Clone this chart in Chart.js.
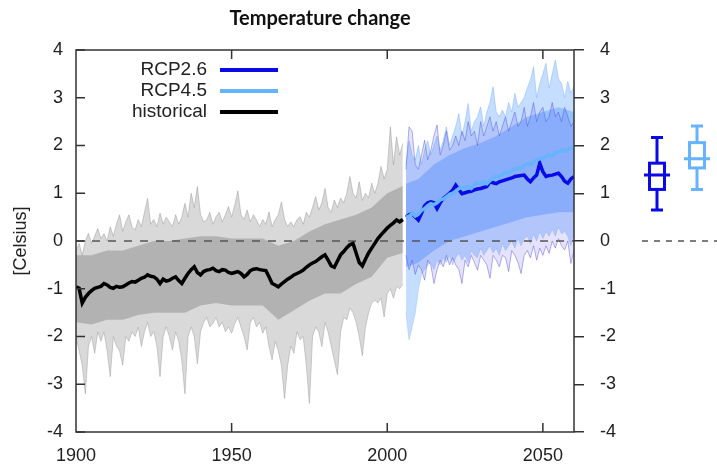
<!DOCTYPE html>
<html>
<head>
<meta charset="utf-8">
<script src="https://cdn.jsdelivr.net/npm/chart.js@4.4.1/dist/chart.umd.min.js"></script>
<style>
  html, body { margin: 0; padding: 0; background: #fff; }
  #cadre { position: relative; width: 717px; height: 465px; }
</style>
</head>
<body>
<div id="cadre"><canvas id="chartTemperature" width="717" height="465"></canvas></div>
<script>
// ─── Données ──────────────────────────────
const debutHist = 1900;
const debutRcp = 2006;

const xTicks = [1900, 1950, 2000, 2050];
const yTicks = [-4, -3, -2, -1, 0, 1, 2, 3, 4];

const legendeLabels = ['RCP2.6', 'RCP4.5', 'historical'];

// moyenne historique, 1900-2005
const moyenneHist = [
  -0.96, -0.99, -1.30, -1.18, -1.10, -1.04, -0.99, -0.97, -0.95, -0.89,
  -0.92, -0.97, -0.99, -0.95, -0.97, -0.96, -0.92, -0.88, -0.85, -0.86,
  -0.82, -0.78, -0.76, -0.71, -0.74, -0.75, -0.80, -0.89, -0.80, -0.84,
  -0.82, -0.78, -0.75, -0.83, -0.89, -0.78, -0.68, -0.60, -0.54, -0.66,
  -0.71, -0.64, -0.61, -0.60, -0.57, -0.62, -0.64, -0.60, -0.61, -0.66,
  -0.68, -0.66, -0.64, -0.68, -0.75, -0.70, -0.62, -0.59, -0.58, -0.60,
  -0.61, -0.62, -0.75, -0.89, -0.92, -0.96, -0.90, -0.85, -0.80, -0.76,
  -0.71, -0.68, -0.65, -0.61, -0.55, -0.50, -0.46, -0.43, -0.38, -0.33,
  -0.29, -0.40, -0.52, -0.55, -0.42, -0.29, -0.22, -0.14, -0.08, -0.05,
  -0.25, -0.45, -0.52, -0.38, -0.25, -0.15, -0.05, 0.05, 0.13, 0.20,
  0.27, 0.33, 0.38, 0.44, 0.40, 0.45
];

// enveloppe de l'ensemble historique (pics)
const hautHist = [
  -0.20, -0.05, -0.30, 0.00, 0.16, -0.05, 0.10, 0.26, 0.05, 0.15,
  0.00, 0.30, 0.10, 0.35, 0.55, 0.20, 0.40, 0.55, 0.30, 0.23,
  0.45, 0.30, 0.60, 0.89, 0.35, 0.45, 0.30, 0.58, 0.35, 0.50,
  0.40, 0.30, 0.55, 0.35, 0.50, 0.79, 0.50, 1.00, 0.70, 1.14,
  0.55, 0.40, 0.44, 0.60, 0.35, 0.51, 0.60, 0.40, 0.55, 0.72,
  0.50, 0.75, 1.05, 0.55, 0.45, 0.65, 0.40, 0.55, 0.44, 0.30,
  0.45, 0.35, 0.61, 0.30, 0.45, 0.55, 0.82, 0.45, 0.30, 0.40,
  0.30, 0.45, 0.51, 0.35, 0.60, 0.50, 0.70, 0.93, 0.65, 0.80,
  1.10, 0.70, 0.60, 0.86, 0.70, 0.90, 0.80, 1.00, 1.35, 1.00,
  0.90, 1.24, 0.85, 1.00, 0.90, 1.21, 1.00, 1.20, 1.56, 1.30,
  1.50, 2.39, 1.60, 2.18, 1.80, 2.04
];
const basHist = [
  -2.00, -2.30, -2.60, -3.20, -2.20, -2.00, -2.35, -1.90, -2.10, -1.90,
  -2.30, -2.84, -2.00, -2.20, -2.30, -2.60, -2.00, -2.10, -1.90, -2.00,
  -1.80, -2.21, -1.90, -1.70, -2.00, -1.90, -2.20, -2.84, -2.00, -1.80,
  -2.00, -2.28, -1.90, -2.10, -2.50, -3.20, -2.00, -1.80, -2.00, -2.57,
  -1.90, -1.70, -1.60, -1.80, -1.72, -1.60, -1.80, -1.70, -1.90, -1.80,
  -1.93, -1.73, -1.60, -1.80, -2.00, -2.28, -1.70, -1.60, -1.80, -1.70,
  -1.93, -1.80, -2.20, -2.49, -2.10, -2.30, -2.60, -3.30, -2.60, -2.20,
  -2.35, -1.90, -2.07, -2.00, -2.60, -3.40, -2.00, -1.80, -1.90, -2.21,
  -1.70, -1.90, -2.20, -2.50, -2.80, -1.90, -1.60, -1.65, -1.40, -1.50,
  -1.70, -2.00, -2.40, -1.80, -1.50, -1.30, -1.24, -1.30, -1.20, -1.59,
  -1.10, -1.00, -1.20, -0.95, -1.00, -0.90
];

// coeur dense de l'ensemble historique
const anneesCoeurHist = [1900, 1905, 1910, 1915, 1920, 1925, 1930, 1935, 1940, 1945, 1950,
  1955, 1960, 1965, 1970, 1975, 1980, 1985, 1990, 1995, 2000, 2005];
const coeurHautHist = [-0.30, -0.30, -0.20, -0.20, -0.10, 0.00, 0.00, 0.05, 0.10, 0.10, 0.05,
  0.05, 0.05, -0.10, 0.00, 0.20, 0.35, 0.45, 0.55, 0.70, 1.00, 1.15];
const coeurBasHist = [-1.70, -1.75, -1.65, -1.65, -1.55, -1.50, -1.50, -1.50, -1.35, -1.30, -1.35,
  -1.35, -1.35, -1.65, -1.45, -1.25, -1.10, -1.10, -0.90, -0.75, -0.35, -0.25];

// scénarios, 2006-2060
const moyenneRcp26 = [
  0.50, 0.55, 0.57, 0.50, 0.44, 0.58, 0.74, 0.80, 0.82, 0.80,
  0.68, 0.80, 0.89, 0.94, 1.00, 1.06, 1.17, 1.08, 0.99, 1.01,
  1.03, 1.04, 1.07, 1.09, 1.10, 1.12, 1.14, 1.24, 1.22, 1.20,
  1.24, 1.26, 1.28, 1.30, 1.32, 1.35, 1.36, 1.37, 1.38, 1.30,
  1.24, 1.32, 1.38, 1.63, 1.45, 1.35, 1.37, 1.38, 1.40, 1.42,
  1.35, 1.25, 1.21, 1.30, 1.35
];
const moyenneRcp45 = [
  0.50, 0.52, 0.58, 0.52, 0.56, 0.64, 0.68, 0.74, 0.78, 0.76,
  0.80, 0.86, 0.88, 0.92, 0.98, 1.00, 1.04, 1.10, 1.12, 1.10,
  1.14, 1.10, 1.18, 1.22, 1.20, 1.24, 1.20, 1.26, 1.32, 1.36,
  1.34, 1.40, 1.44, 1.42, 1.48, 1.50, 1.54, 1.52, 1.58, 1.62,
  1.60, 1.66, 1.70, 1.72, 1.74, 1.76, 1.80, 1.78, 1.84, 1.86,
  1.90, 1.88, 1.92, 1.94, 1.96
];
const hautRcp45 = [
  1.60, 2.10, 1.80, 1.70, 2.00, 1.60, 1.90, 2.10, 1.80, 2.00,
  2.20, 1.90, 2.10, 2.39, 2.00, 2.20, 2.40, 2.67, 2.20, 2.50,
  2.88, 2.30, 2.50, 2.60, 2.81, 2.40, 2.70, 2.90, 3.23, 2.70,
  2.60, 2.74, 2.60, 2.90, 2.70, 3.09, 2.80, 2.90, 3.00, 3.20,
  3.37, 3.65, 3.00, 3.30, 3.50, 3.72, 3.20, 3.50, 3.79, 3.40,
  3.30, 3.00, 3.34, 3.10, 3.23
];
const basRcp45 = [
  -1.50, -2.07, -1.80, -1.51, -1.02, -0.70, -0.60, -0.50, -0.45, -0.60,
  -0.40, -0.50, -0.35, -0.45, -0.30, -0.50, -0.35, -0.25, -0.40, -0.30,
  -0.45, -0.20, -0.30, -0.35, -0.15, -0.30, -0.20, -0.10, -0.25, -0.15,
  -0.30, -0.05, -0.20, -0.10, 0.00, -0.15, 0.05, -0.10, 0.05, 0.10,
  -0.05, 0.15, 0.00, 0.20, 0.05, 0.20, 0.10, 0.25, 0.10, 0.30,
  0.15, 0.20, 0.10, -0.10, 0.20
];
const hautRcp26 = [
  1.50, 2.39, 2.30, 1.60, 1.50, 1.80, 2.11, 1.70, 1.90, 2.20,
  2.43, 1.80, 2.00, 2.30, 1.90, 2.00, 2.20, 2.00, 2.30, 2.10,
  2.50, 2.20, 2.30, 2.00, 2.50, 2.20, 2.40, 2.60, 2.30, 2.50,
  2.20, 2.40, 2.60, 2.30, 2.50, 2.70, 2.40, 2.50, 2.80, 2.40,
  2.60, 2.90, 2.50, 2.70, 2.80, 2.50, 2.60, 2.90, 2.60, 2.70,
  2.50, 2.80, 2.60, 2.40, 2.50
];
const basRcp26 = [
  -0.30, -0.60, -0.40, -0.70, -0.50, -0.60, -0.82, -0.40, -0.50, -0.89,
  -0.60, -0.40, -0.54, -0.30, -0.50, -0.35, -0.50, -0.60, -0.89, -0.40,
  -0.54, -0.30, -0.45, -0.61, -0.30, -0.40, -0.50, -0.78, -0.30, -0.40,
  -0.54, -0.30, -0.35, -0.64, -0.20, -0.30, -0.45, -0.68, -0.30, -0.20,
  -0.35, -0.10, -0.40, -0.15, -0.30, -0.10, -0.26, 0.00, -0.15, 0.05,
  -0.10, -0.19, 0.00, -0.47, -0.20
];
const anneesCoeurRcp = [2006, 2010, 2015, 2020, 2025, 2030, 2035, 2040, 2045, 2050, 2055, 2060];
const coeurHautRcp = [1.20, 1.30, 1.60, 1.80, 1.95, 2.05, 2.20, 2.40, 2.60, 2.70, 2.80, 2.70];
const coeurBasRcp = [-0.55, -0.45, -0.20, 0.00, 0.10, 0.20, 0.30, 0.40, 0.50, 0.55, 0.60, 0.60];

// boîtes à moustaches (RCP2.6, RCP4.5)
const boiteMin = [0.65, 1.08];
const boiteQ1 = [1.08, 1.53];
const boiteMed = [1.38, 1.72];
const boiteQ3 = [1.63, 2.06];
const boiteMax = [2.17, 2.41];

// ─── Styles ───────────
const couleurs = { rcp26: '#0a0ae6', rcp45: '#66b3ff', hist: '#000000', texte: '#222222', cadre: '#333333' };
const policeTicks = { family: 'Liberation Sans, Arial, sans-serif', size: 18 };
const boitePositions = [83, 123];   // décalage depuis le bord droit du graphe

const serie = (debut, valeurs) => valeurs.map((v, i) => ({ x: debut + i, y: v }));
const serieAnnees = (annees, valeurs) => valeurs.map((v, i) => ({ x: annees[i], y: v }));

const ligne = (data, couleur, largeur, extra = {}) => Object.assign({
  data, borderColor: couleur, borderWidth: largeur, pointRadius: 0, fill: false, tension: 0
}, extra);

const datasets = [
  ligne(serie(debutHist, moyenneHist), couleurs.hist, 3.5, { label: 'historical' }),
  ligne(serie(debutRcp, moyenneRcp45), couleurs.rcp45, 3.5, { label: 'RCP4.5' }),
  ligne(serie(debutRcp, moyenneRcp26), couleurs.rcp26, 3.5, { label: 'RCP2.6' }),
  ligne([{ x: 1900, y: 0 }, { x: 2060, y: 0 }], '#555555', 1.6, { borderDash: [8, 8] }),
  ligne(serie(debutRcp, hautRcp26), 'rgba(80,70,225,0.55)', 0.8, { fill: '+1', backgroundColor: 'rgba(70,60,225,0.14)' }),
  ligne(serie(debutRcp, basRcp26), 'rgba(80,70,225,0.55)', 0.8),
  ligne(serieAnnees(anneesCoeurRcp, coeurHautRcp), 'rgba(0,0,0,0)', 0, { fill: '+1', backgroundColor: 'rgba(100,165,255,0.5)' }),
  ligne(serieAnnees(anneesCoeurRcp, coeurBasRcp), 'rgba(0,0,0,0)', 0),
  ligne(serie(debutRcp, hautRcp45), 'rgba(120,180,255,0.6)', 0.8, { fill: '+1', backgroundColor: 'rgba(140,190,255,0.5)' }),
  ligne(serie(debutRcp, basRcp45), 'rgba(150,195,255,0.6)', 0.8),
  ligne(serieAnnees(anneesCoeurHist, coeurHautHist), 'rgba(0,0,0,0)', 0, { fill: '+1', backgroundColor: 'rgba(120,120,120,0.4)' }),
  ligne(serieAnnees(anneesCoeurHist, coeurBasHist), 'rgba(0,0,0,0)', 0),
  ligne(serie(debutHist, hautHist), 'rgba(150,150,150,0.6)', 0.8, { fill: '+1', backgroundColor: 'rgba(170,170,170,0.45)' }),
  ligne(serie(debutHist, basHist), 'rgba(150,150,150,0.6)', 0.8)
];
datasets.forEach((d, i) => { d.order = i; });

// ─── Décor : cadre, ticks internes, légende, boîtes ───────────
const decor = {
  id: 'decor',
  afterDatasetsDraw(chart) {
    const { ctx, chartArea: a, scales } = chart;
    ctx.save();
    ctx.strokeStyle = couleurs.cadre;
    ctx.lineWidth = 1.5;
    ctx.beginPath();
    yTicks.forEach(v => {
      const y = scales.y.getPixelForValue(v);
      ctx.moveTo(a.left, y); ctx.lineTo(a.left + 9, y);
    });
    xTicks.slice(1).forEach(v => {
      const x = scales.x.getPixelForValue(v);
      ctx.moveTo(x, a.bottom); ctx.lineTo(x, a.bottom - 9);
      ctx.moveTo(x, a.top); ctx.lineTo(x, a.top + 9);
    });
    ctx.stroke();
    ctx.strokeRect(a.left, a.top, a.right - a.left, a.bottom - a.top);
    ctx.restore();
  },
  afterDraw(chart) {
    const { ctx, chartArea: a, scales } = chart;
    ctx.save();

    // légende
    const couleursLegende = [couleurs.rcp26, couleurs.rcp45, couleurs.hist];
    ctx.font = '19px "Liberation Sans", Arial, sans-serif';
    ctx.textAlign = 'right';
    ctx.textBaseline = 'middle';
    legendeLabels.forEach((txt, i) => {
      const y = a.top + 20 + i * 21;
      ctx.fillStyle = couleurs.texte;
      ctx.fillText(txt, a.left + 131, y);
      ctx.strokeStyle = couleursLegende[i];
      ctx.lineWidth = 4;
      ctx.beginPath();
      ctx.moveTo(a.left + 144, y); ctx.lineTo(a.left + 202, y);
      ctx.stroke();
    });

    // ligne zéro du panneau de droite
    const y0 = scales.y.getPixelForValue(0);
    ctx.strokeStyle = '#555555';
    ctx.lineWidth = 1.6;
    ctx.setLineDash([6, 6]);
    ctx.beginPath();
    ctx.moveTo(a.right + 68, y0); ctx.lineTo(chart.width, y0);
    ctx.stroke();
    ctx.setLineDash([]);

    // boîtes à moustaches
    const couleursBoites = [couleurs.rcp26, couleurs.rcp45];
    boitePositions.forEach((dx, i) => {
      const cx = a.right + dx;
      const py = v => scales.y.getPixelForValue(v);
      ctx.strokeStyle = couleursBoites[i];
      ctx.lineWidth = 3;
      ctx.beginPath();
      ctx.moveTo(cx, py(boiteMax[i])); ctx.lineTo(cx, py(boiteQ3[i]));
      ctx.moveTo(cx, py(boiteQ1[i])); ctx.lineTo(cx, py(boiteMin[i]));
      ctx.moveTo(cx - 6, py(boiteMax[i])); ctx.lineTo(cx + 6, py(boiteMax[i]));
      ctx.moveTo(cx - 6, py(boiteMin[i])); ctx.lineTo(cx + 6, py(boiteMin[i]));
      ctx.moveTo(cx - 13, py(boiteMed[i])); ctx.lineTo(cx + 13, py(boiteMed[i]));
      ctx.stroke();
      ctx.strokeRect(cx - 7.5, py(boiteQ3[i]), 15, py(boiteQ1[i]) - py(boiteQ3[i]));
    });
    ctx.restore();
  }
};

const chartTemperature = new Chart(document.getElementById('chartTemperature'), {
  type: 'line',
  data: { datasets },
  plugins: [decor],
  options: {
    responsive: false,
    devicePixelRatio: 1,
    animation: false,
    events: [],
    layout: { padding: { left: 0, right: 77, top: 0, bottom: 0 } },
    plugins: {
      legend: { display: false },
      tooltip: { enabled: false },
      filler: { drawTime: 'beforeDatasetDraw' },
      title: {
        display: true,
        text: 'Temperature change',
        color: '#111111',
        font: { family: 'Lato, "Open Sans", sans-serif', size: 20, weight: 'bold' },
        padding: { top: 7, bottom: 19 }
      }
    },
    scales: {
      x: {
        type: 'linear', position: 'bottom', min: 1900, max: 2060,
        ticks: { stepSize: 50, includeBounds: false, maxRotation: 0, autoSkip: false,
                 color: couleurs.texte, font: policeTicks, padding: 13,
                 callback: v => (xTicks.includes(v) ? String(v) : '') },
        grid: { display: false, drawTicks: false },
        border: { display: false },
        afterFit: s => { s.height = 33; }
      },
      y: {
        type: 'linear', position: 'left', min: -4, max: 4,
        ticks: { stepSize: 1, color: couleurs.texte, font: policeTicks, padding: 13 },
        grid: { display: false, drawTicks: false },
        border: { display: false },
        title: { display: true, text: '[Celsius]', color: couleurs.texte,
                 font: { family: 'Liberation Sans, Arial, sans-serif', size: 18 }, padding: { top: 10, bottom: 0 } },
        afterFit: s => { s.width = 76; }
      },
      y2: {
        type: 'linear', position: 'right', min: -4, max: 4,
        ticks: { stepSize: 1, color: couleurs.texte, font: policeTicks, padding: 16 },
        grid: { drawOnChartArea: false, drawTicks: true, tickLength: 10, color: couleurs.cadre, lineWidth: 1.5 },
        border: { display: false },
        afterFit: s => { s.width = 66; }
      }
    }
  }
});
</script>
</body>
</html>
